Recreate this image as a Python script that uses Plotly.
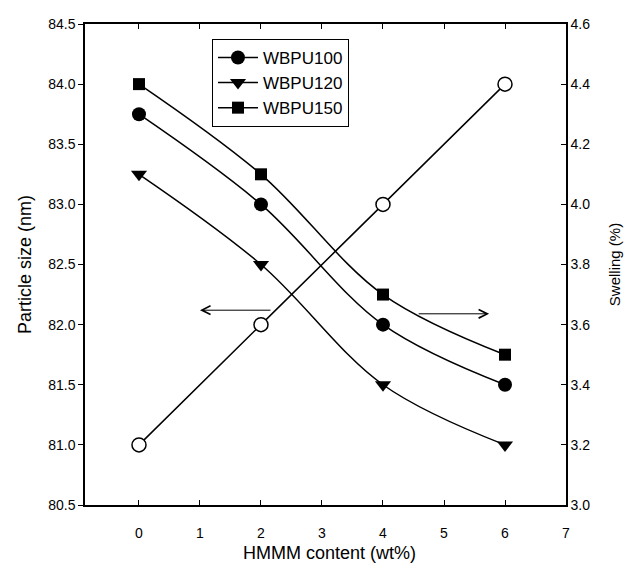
import plotly.graph_objects as go

hmmm = [0, 2, 4, 6]
particle_size = [81.0, 82.0, 83.0, 84.0]
swell_100 = [4.3, 4.0, 3.6, 3.4]
swell_120 = [4.1, 3.8, 3.4, 3.2]
swell_150 = [4.4, 4.1, 3.7, 3.5]
series_names = ["WBPU100", "WBPU120", "WBPU150"]
x_title = "HMMM content (wt%)"

FONT = "Liberation Sans, Arial, sans-serif"
fig = go.Figure()

fig.add_trace(go.Scatter(
    x=hmmm, y=particle_size, mode="lines+markers", line_shape="spline",
    line=dict(color="black", width=1.5),
    marker=dict(symbol="circle", size=14, color="white", line=dict(color="black", width=1.5)),
    showlegend=False, yaxis="y"))

for name, vals, sym, sz in zip(series_names, [swell_100, swell_120, swell_150],
                               ["circle", "triangle-down", "square"], [14, 14, 12]):
    fig.add_trace(go.Scatter(
        x=hmmm, y=vals, mode="lines+markers", line_shape="spline", name=name,
        line=dict(color="black", width=1.5),
        marker=dict(symbol=sym, size=sz, color="black"),
        yaxis="y2"))

fig.add_annotation(x=1.0, y=82.12, ax=2.18, ay=82.12, xref="x", yref="y",
                   axref="x", ayref="y", showarrow=True, arrowhead=5,
                   arrowsize=1.7, arrowwidth=1, arrowcolor="black", text="")
fig.add_annotation(x=5.74, y=82.09, ax=4.56, ay=82.09, xref="x", yref="y",
                   axref="x", ayref="y", showarrow=True, arrowhead=5,
                   arrowsize=1.7, arrowwidth=1, arrowcolor="black", text="")
fig.add_annotation(x=0.509, y=-0.1, xref="paper", yref="paper", text=x_title,
                   showarrow=False, xanchor="center", yanchor="middle",
                   font=dict(size=18))

fig.update_layout(
    width=631, height=569,
    margin=dict(l=85, r=65, t=24, b=64),
    paper_bgcolor="white", plot_bgcolor="white",
    font=dict(family=FONT, size=14, color="black"),
    xaxis=dict(range=[-0.885, 7], tickmode="array", tickvals=list(range(0, 8)),
               ticks="inside", ticklen=5, tickcolor="black", mirror="ticks",
               showline=True, linecolor="black", linewidth=1.5, showgrid=False,
               zeroline=False, tickfont=dict(size=14), ticklabelstandoff=14,
               automargin=False),
    yaxis=dict(range=[80.5, 84.5], dtick=0.5, tickformat=".1f",
               ticks="outside", ticklen=5, tickcolor="black",
               showline=True, linecolor="black", linewidth=1.5, showgrid=False,
               zeroline=False, tickfont=dict(size=14), automargin=False,
               title=dict(text="Particle size (nm)", font=dict(size=18), standoff=12)),
    yaxis2=dict(range=[3.0, 4.6], dtick=0.2, tickformat=".1f", overlaying="y", side="right",
                ticks="inside", ticklen=5, tickcolor="black",
                showline=True, linecolor="black", linewidth=1.5, showgrid=False,
                zeroline=False, tickfont=dict(size=14), automargin=False,
                title=dict(text="Swelling (%)", font=dict(size=15), standoff=20)),
    legend=dict(x=0.264, y=0.969, xanchor="left", yanchor="top",
                bordercolor="black", borderwidth=1, bgcolor="white",
                font=dict(size=17), tracegroupgap=0, itemwidth=40),
)

fig.write_html("out.html")
